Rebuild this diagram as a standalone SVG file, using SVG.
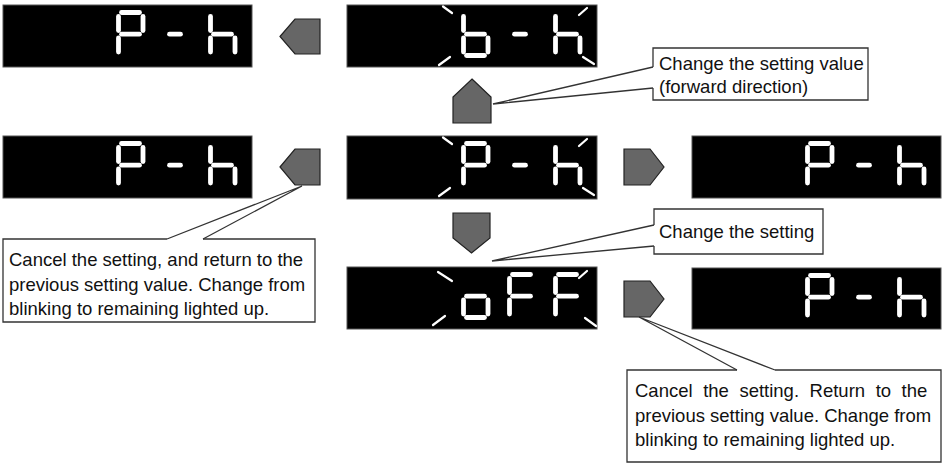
<svg xmlns="http://www.w3.org/2000/svg" width="943" height="464" viewBox="0 0 943 464">
<style>
.lcd{fill:#000;stroke:#555;stroke-width:1}
.dig{stroke:#fff;stroke-width:4.8;stroke-linecap:round;fill:none}
.blink{stroke:#fff;stroke-width:2.2;stroke-linecap:round;fill:none}
.arrow{fill:#666;stroke:#222;stroke-width:1.2;stroke-linejoin:miter}
.box{fill:#fff;stroke:#333;stroke-width:1.3}
.lead{fill:none;stroke:#333;stroke-width:1.3;stroke-linejoin:miter}
.t{font-family:"Liberation Sans",Arial,Helvetica,sans-serif;font-size:18.5px;fill:#111}
</style>
<defs>
<line id="sa" x1="5.5" y1="2.5" x2="23.5" y2="2.5"/>
<line id="sb" x1="27" y1="6.5" x2="27" y2="20.5"/>
<line id="sc" x1="27" y1="28" x2="27" y2="42"/>
<line id="sd" x1="5.5" y1="45.5" x2="23.5" y2="45.5"/>
<line id="se" x1="2.5" y1="28" x2="2.5" y2="42"/>
<line id="sf" x1="2.5" y1="6.5" x2="2.5" y2="20.5"/>
<line id="sg" x1="5.5" y1="24.2" x2="23.5" y2="24.2"/>
<line id="sdash" x1="7.5" y1="24.2" x2="18.5" y2="24.2"/>
<g id="dP"><use href="#sa"/><use href="#sb"/><use href="#sf"/><use href="#sg"/><use href="#se"/></g>
<g id="dh"><use href="#sf"/><use href="#se"/><use href="#sg"/><use href="#sc"/></g>
<g id="db"><use href="#sf"/><use href="#se"/><use href="#sg"/><use href="#sc"/><use href="#sd"/></g>
<g id="do"><use href="#sg"/><use href="#sc"/><use href="#sd"/><use href="#se"/></g>
<g id="dF"><use href="#sa"/><use href="#sf"/><use href="#sg"/><use href="#se"/></g>
<g id="ph"><use href="#dP" x="113" y="5"/><use href="#sdash" x="159" y="5"/><use href="#dh" x="205" y="5"/></g>
<g id="blinkmarks" class="blink"><line x1="96" y1="1.5" x2="105" y2="8"/><line x1="92" y1="60" x2="103" y2="52"/><line x1="232" y1="10" x2="240" y2="3"/><line x1="236" y1="52" x2="247" y2="59"/></g>
</defs>

<g id="disp-top-left" transform="translate(3,5)">
<rect class="lcd" width="249" height="62"/>
<g class="dig"><use href="#ph"/></g>
</g>

<g id="disp-top-mid" transform="translate(347,5)">
<rect class="lcd" width="250" height="62"/>
<g class="dig"><use href="#db" x="114" y="5"/><use href="#sdash" x="160" y="5"/><use href="#dh" x="206" y="5"/></g>
<use href="#blinkmarks"/>
</g>

<g id="disp-mid-left" transform="translate(3,136)">
<rect class="lcd" width="249" height="62"/>
<g class="dig"><use href="#ph"/></g>
</g>

<g id="disp-mid" transform="translate(347,136)">
<rect class="lcd" width="250" height="63"/>
<g class="dig"><use href="#dP" x="114" y="5"/><use href="#sdash" x="160" y="5"/><use href="#dh" x="206" y="5"/></g>
<use href="#blinkmarks"/>
</g>

<g id="disp-mid-right" transform="translate(692,136)">
<rect class="lcd" width="249" height="62"/>
<g class="dig"><use href="#ph"/></g>
</g>

<g id="disp-off" transform="translate(347,267)">
<rect class="lcd" width="250" height="62"/>
<g class="dig"><use href="#do" x="114" y="5"/><use href="#dF" x="160" y="5"/><use href="#dF" x="206" y="5"/></g>
<g class="blink"><line x1="91" y1="5" x2="105" y2="14"/><line x1="86" y1="58" x2="98" y2="49"/><line x1="232" y1="11" x2="240" y2="4"/><line x1="238" y1="51" x2="249" y2="59"/></g>
</g>

<g id="disp-bottom-right" transform="translate(692,268)">
<rect class="lcd" width="249" height="61"/>
<g class="dig"><use href="#ph"/></g>
</g>

<g id="callout-forward">
<path class="box" d="M653,67 V48 H868 V100 H653 V88"/>
<text class="t" x="659" y="70">Change the setting value</text>
<text class="t" x="659" y="93">(forward direction)</text>
</g>

<g id="callout-change">
<path class="box" d="M654,225 V209 H823 V254 H654 V246"/>
<text class="t" x="659" y="238">Change the setting</text>
</g>

<g id="callout-cancel-left">
<path class="box" d="M167,239 H3 V322 H315 V239 H203"/>
<text class="t" x="9" y="266">Cancel the setting, and return to the</text>
<text class="t" x="9" y="290.5">previous setting value. Change from</text>
<text class="t" x="9" y="315">blinking to remaining lighted up.</text>
</g>

<g id="callout-cancel-right">
<path class="box" d="M737,370 H627 V462 H941 V370 H775"/>
<text class="t" x="635" y="397" word-spacing="5.4">Cancel the setting. Return to the</text>
<text class="t" x="635" y="422">previous setting value. Change from</text>
<text class="t" x="635" y="446">blinking to remaining lighted up.</text>
</g>

<g id="connectors">
<path id="arrow-top-left" class="arrow" d="M280,36.5 L295,19 H320 V54 H295 Z"/>
<path id="arrow-up" class="arrow" d="M472,79 L491,97 V123 H453 V97 Z"/>
<path id="arrow-mid-left" class="arrow" d="M280,167 L295,149 H320 V185 H295 Z"/>
<path id="arrow-mid-right" class="arrow" d="M624,149 H650 L664,167 L650,185 H624 Z"/>
<path id="arrow-down" class="arrow" d="M453,213 H490 V238 L471.5,253 L453,238 Z"/>
<path id="arrow-bottom-right" class="arrow" d="M624,281 H650 L664,299 L650,317 H624 Z"/>
<polyline class="lead" points="653,67 493,104 653,88"/>
<polyline class="lead" points="654,225 492,261 654,246"/>
<polyline class="lead" points="167,239 302,186 203,239"/>
<polyline class="lead" points="737,370 639,317 775,370"/>
</g>
</svg>
